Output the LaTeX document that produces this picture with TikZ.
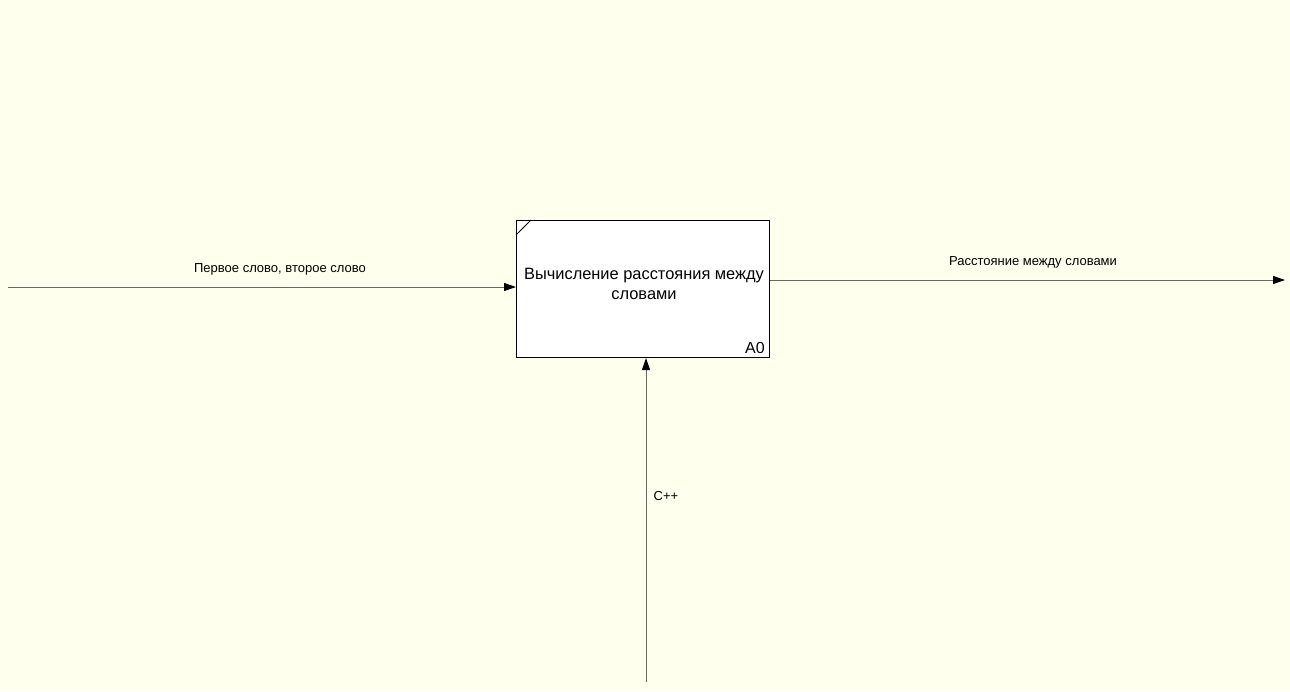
\documentclass[tikz,border=0pt]{standalone}
\usepackage{fontspec}
\setmainfont{Liberation Sans}
\usetikzlibrary{arrows.meta}
\definecolor{bgc}{RGB}{255,255,238}
\definecolor{linec}{RGB}{105,105,95}
\tikzset{
  conn/.style={draw=linec, line width=1pt, -{Triangle[length=12pt,width=8pt,color=black]}},
  lbl/.style={font=\fontsize{13}{15}\selectfont, text=black, inner sep=0pt},
  actbox/.style={draw=black, fill=white, line width=1pt, minimum width=253pt, minimum height=137pt, inner sep=0pt}
}
\begin{document}
\begin{tikzpicture}[x=1pt,y=-1pt]
\fill[bgc] (0,0) rectangle (1290,691);
\useasboundingbox (0,0) rectangle (1290,691);
\node[actbox, anchor=north west] (a0) at (516,220) {};
\draw[black, line width=0.8pt] ([yshift=-15pt]a0.north west) -- ([xshift=15pt]a0.north west);
\node[font=\fontsize{16.4}{20}\selectfont, align=center, inner sep=0pt] (a0t) at (644,284) {Вычисление расстояния между\\словами};
\node[font=\fontsize{16}{19}\selectfont, inner sep=0pt, anchor=south east] (a0n) at (765,354) {A0};
\coordinate (inS) at (8,287);
\coordinate (outE) at (1285,280);
\coordinate (ctlS) at (646,682);
\draw[conn] (inS) -- (inS -| a0.west);
\draw[conn] (outE -| a0.east) -- (outE);
\draw[conn] (ctlS) -- (ctlS |- a0.south);
\node[lbl] (l1) at (280,269) {Первое слово, второе слово};
\node[lbl] (l2) at (1033,262) {Расстояние между словами};
\node[lbl] (l3) at (666,496) {C++};
\end{tikzpicture}
\end{document}
